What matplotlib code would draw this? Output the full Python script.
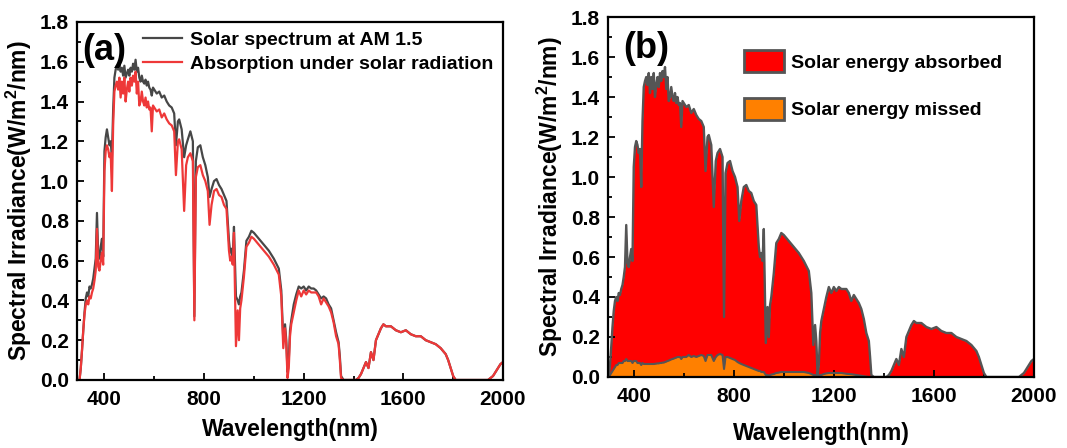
import numpy as np
import matplotlib.pyplot as plt
from matplotlib.patches import Patch
from matplotlib.ticker import MultipleLocator

plt.rcParams['font.family'] = ['Liberation Sans', 'DejaVu Sans']
plt.rcParams['font.weight'] = 'bold'
plt.rcParams['mathtext.fontset'] = 'custom'
plt.rcParams['mathtext.rm'] = 'Liberation Sans:bold'
plt.rcParams['mathtext.bf'] = 'Liberation Sans:bold'

# wavelength grid (nm)
wl = [300, 305, 310, 315, 320, 325, 330, 335, 340, 345,
      350, 355, 360, 365, 370, 375, 380, 385, 390, 395,
      400, 405, 410, 415, 420, 425, 430, 435, 440, 445,
      450, 455, 460, 465, 470, 475, 480, 485, 490, 495,
      500, 505, 510, 515, 520, 525, 530, 535, 540, 545,
      550, 555, 560, 565, 570, 575, 580, 585, 590, 595,
      600, 610, 620, 630, 640, 650, 660, 670, 680, 687,
      695, 700, 710, 720, 728, 735, 745, 755, 761, 767,
      775, 785, 795, 805, 815, 822, 830, 840, 850, 860,
      870, 880, 890, 900, 905, 910, 915, 920, 928, 935,
      940, 945, 950, 960, 970, 980, 990, 1000, 1020, 1040,
      1060, 1080, 1100, 1110, 1118, 1125, 1130, 1135, 1140, 1145,
      1150, 1160, 1170, 1180, 1190, 1200, 1210, 1220, 1230, 1240,
      1250, 1260, 1270, 1280, 1290, 1300, 1310, 1320, 1330, 1340,
      1345, 1350, 1360, 1380, 1400, 1410, 1420, 1430, 1440, 1450,
      1460, 1470, 1480, 1490, 1500, 1510, 1520, 1530, 1550, 1570,
      1590, 1610, 1630, 1650, 1670, 1690, 1710, 1730, 1750, 1770,
      1780, 1790, 1800, 1810, 1820, 1860, 1900, 1940, 1950, 1960,
      1970, 1980, 1990, 2000]

# AM 1.5 solar spectrum (W/m2/nm)
am15 = [0.00, 0.06, 0.15, 0.25, 0.34, 0.41, 0.44, 0.42, 0.47, 0.46,
        0.48, 0.51, 0.56, 0.61, 0.84, 0.63, 0.61, 0.67, 0.71, 0.62,
        1.15, 1.22, 1.26, 1.22, 1.18, 1.20, 1.12, 1.36, 1.52, 1.56,
        1.58, 1.56, 1.59, 1.55, 1.57, 1.53, 1.58, 1.52, 1.54, 1.56,
        1.53, 1.57, 1.55, 1.59, 1.56, 1.61, 1.55, 1.57, 1.52, 1.50,
        1.53, 1.50, 1.49, 1.51, 1.48, 1.50, 1.47, 1.46, 1.43, 1.47,
        1.46, 1.44, 1.45, 1.42, 1.43, 1.40, 1.38, 1.37, 1.34, 1.18,
        1.30, 1.31, 1.26, 1.12, 1.18, 1.21, 1.25, 1.20, 0.32, 1.10,
        1.17, 1.18, 1.12, 1.08, 1.02, 0.92, 0.96, 1.00, 1.01, 0.98,
        0.96, 0.93, 0.90, 0.70, 0.64, 0.66, 0.62, 0.77, 0.42, 0.40,
        0.38, 0.42, 0.44, 0.55, 0.70, 0.72, 0.75, 0.74, 0.71, 0.68,
        0.65, 0.61, 0.56, 0.45, 0.20, 0.28, 0.20, 0.04, 0.10, 0.25,
        0.30, 0.38, 0.43, 0.47, 0.46, 0.47, 0.45, 0.47, 0.46, 0.46,
        0.45, 0.43, 0.41, 0.42, 0.41, 0.38, 0.36, 0.30, 0.24, 0.19,
        0.12, 0.02, 0.00, 0.00, 0.00, 0.00, 0.01, 0.03, 0.06, 0.09,
        0.06, 0.14, 0.10, 0.20, 0.23, 0.26, 0.28, 0.27, 0.27, 0.25,
        0.24, 0.25, 0.23, 0.22, 0.22, 0.20, 0.19, 0.18, 0.16, 0.13,
        0.10, 0.06, 0.02, 0.00, 0.00, 0.00, 0.00, 0.00, 0.01, 0.02,
        0.04, 0.06, 0.08, 0.09]

# absorbed part under solar radiation
absorbed = [0.00, 0.06, 0.15, 0.25, 0.33, 0.38, 0.40, 0.38, 0.42, 0.41,
            0.44, 0.46, 0.50, 0.55, 0.76, 0.57, 0.55, 0.60, 0.64, 0.58,
            1.05, 1.15, 1.18, 1.16, 1.12, 1.14, 0.95, 1.28, 1.45, 1.48,
            1.50, 1.46, 1.52, 1.42, 1.50, 1.44, 1.52, 1.40, 1.46, 1.50,
            1.45, 1.52, 1.48, 1.53, 1.50, 1.55, 1.44, 1.50, 1.38, 1.40,
            1.45, 1.40, 1.38, 1.42, 1.37, 1.40, 1.36, 1.37, 1.25, 1.38,
            1.37, 1.35, 1.36, 1.32, 1.34, 1.31, 1.29, 1.28, 1.25, 1.03,
            1.20, 1.21, 1.16, 0.85, 1.08, 1.12, 1.14, 1.10, 0.30, 1.02,
            1.07, 1.08, 1.03, 1.00, 0.95, 0.78, 0.88, 0.95, 0.96, 0.93,
            0.92, 0.88, 0.86, 0.65, 0.60, 0.62, 0.58, 0.74, 0.17, 0.35,
            0.20, 0.36, 0.40, 0.52, 0.67, 0.69, 0.72, 0.71, 0.68, 0.65,
            0.62, 0.58, 0.53, 0.42, 0.16, 0.26, 0.18, 0.01, 0.06, 0.22,
            0.28, 0.34, 0.40, 0.45, 0.42, 0.45, 0.43, 0.45, 0.44, 0.44,
            0.44, 0.42, 0.38, 0.41, 0.39, 0.37, 0.34, 0.29, 0.22, 0.18,
            0.10, 0.01, 0.00, 0.00, 0.00, 0.00, 0.01, 0.03, 0.06, 0.09,
            0.06, 0.14, 0.10, 0.20, 0.23, 0.26, 0.28, 0.27, 0.27, 0.25,
            0.24, 0.25, 0.23, 0.22, 0.22, 0.20, 0.19, 0.18, 0.16, 0.13,
            0.10, 0.06, 0.02, 0.00, 0.00, 0.00, 0.00, 0.00, 0.01, 0.02,
            0.04, 0.06, 0.08, 0.09]

# missed part (up to 1340 nm, zero beyond)
missed = [0.00, 0.01, 0.02, 0.03, 0.04, 0.05, 0.06, 0.06, 0.07, 0.07,
          0.07, 0.07, 0.08, 0.08, 0.09, 0.08, 0.08, 0.08, 0.08, 0.07,
          0.08, 0.08, 0.08, 0.07, 0.07, 0.07, 0.06, 0.07, 0.065, 0.065,
          0.065, 0.065, 0.065, 0.065, 0.065, 0.065, 0.065, 0.066, 0.067, 0.068,
          0.068, 0.07, 0.07, 0.072, 0.072, 0.075, 0.077, 0.08, 0.082, 0.085,
          0.088, 0.09, 0.092, 0.095, 0.097, 0.10, 0.10, 0.10, 0.09, 0.10,
          0.10, 0.10, 0.11, 0.10, 0.105, 0.10, 0.105, 0.11, 0.105, 0.08,
          0.11, 0.11, 0.11, 0.08, 0.10, 0.11, 0.115, 0.11, 0.04, 0.10,
          0.10, 0.095, 0.09, 0.085, 0.075, 0.07, 0.065, 0.06, 0.055, 0.05,
          0.045, 0.04, 0.035, 0.03, 0.03, 0.025, 0.025, 0.025, 0.01, 0.01,
          0.005, 0.01, 0.012, 0.015, 0.02, 0.022, 0.025, 0.025, 0.025, 0.025,
          0.025, 0.025, 0.02, 0.015, 0.01, 0.01, 0.005, 0.0, 0.005, 0.01,
          0.01, 0.015, 0.018, 0.02, 0.02, 0.02, 0.02, 0.02, 0.02, 0.018,
          0.016, 0.015, 0.014, 0.012, 0.01, 0.008, 0.006, 0.004, 0.002, 0.0]

grey = '#555555'
fs_tick = 15
fs_leg = 14
fs_lab = 16.5

fig = plt.figure(figsize=(10.67, 4.48), dpi=100)
axa = fig.add_axes([0.0722, 0.1518, 0.3992, 0.7992])
axb = fig.add_axes([0.5698, 0.1585, 0.3992, 0.8035])


def style(ax, x0, xpad):
    ax.set_xlim(x0, 2000)
    ax.set_ylim(0, 1.8)
    ax.xaxis.set_major_locator(MultipleLocator(400))
    ax.xaxis.set_minor_locator(MultipleLocator(200))
    ax.yaxis.set_major_locator(MultipleLocator(0.2))
    ax.yaxis.set_minor_locator(MultipleLocator(0.1))
    ax.tick_params(which='both', direction='in', top=False, right=False,
                   width=1.3, labelsize=fs_tick)
    ax.tick_params(which='major', length=5)
    ax.tick_params(which='minor', length=3)
    ax.tick_params(axis='y', pad=6)
    ax.tick_params(axis='x', pad=7)
    ax.set_yticklabels(['%.1f' % v for v in ax.get_yticks()])
    for s in ax.spines.values():
        s.set_linewidth(1.6)
    ax.set_xlabel('Wavelength(nm)', fontsize=fs_lab, fontweight='bold', labelpad=xpad)
    ax.set_ylabel('Spectral Irradiance(W/m$^2$/nm)', fontsize=fs_lab,
                  fontweight='bold', labelpad=4)


# (a)
axa.plot(wl, am15, color='#474747', lw=1.6, label='Solar spectrum at AM 1.5')
axa.plot(wl, absorbed, color='#EE3838', lw=1.6, label='Absorption under solar radiation')
style(axa, 290, 7)
axa.legend(loc='upper right', frameon=False, fontsize=fs_leg, handlelength=2.0,
           handletextpad=0.4, labelspacing=0.3, borderaxespad=0.1)
axa.text(0.012, 0.97, '(a)', transform=axa.transAxes, fontsize=26,
         fontweight='bold', va='top', ha='left')

# (b)
axb.fill_between(wl, absorbed, color='#FF0000', lw=0)
axb.plot(wl, absorbed, color=grey, lw=1.7)
wl_m = wl[:len(missed)]
axb.fill_between(wl_m, missed, color='#FF8000', lw=0)
axb.plot(wl_m, missed, color=grey, lw=1.5)
style(axb, 297, 12)
handles = [Patch(facecolor='#FF0000', edgecolor=grey, lw=2),
           Patch(facecolor='#FF8000', edgecolor=grey, lw=2)]
axb.legend(handles, ['Solar energy absorbed', 'Solar energy missed'],
           loc='upper left', bbox_to_anchor=(0.30, 0.93), frameon=False,
           fontsize=fs_leg, handlelength=2.1, handleheight=1.4,
           handletextpad=0.35, labelspacing=1.3, borderaxespad=0)
axb.text(0.035, 0.96, '(b)', transform=axb.transAxes, fontsize=26,
         fontweight='bold', va='top', ha='left')

fig.savefig('out.png', dpi=100)
